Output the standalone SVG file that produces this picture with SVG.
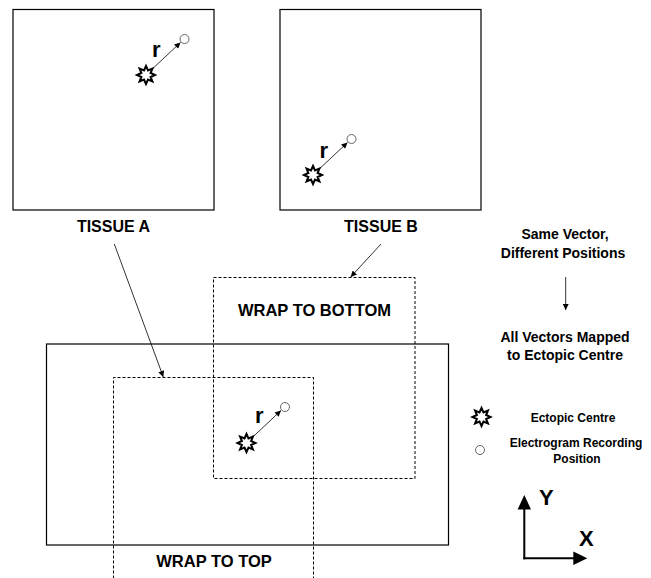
<svg xmlns="http://www.w3.org/2000/svg" xmlns:xlink="http://www.w3.org/1999/xlink" width="651" height="578" viewBox="0 0 651 578">
<style>
  .box{fill:none;stroke:#000;stroke-width:1.2}
  .dash{fill:none;stroke:#000;stroke-width:1;stroke-dasharray:3,2}
  .t{font-family:"Liberation Sans",Arial,Helvetica,sans-serif;font-weight:bold;fill:#000}
  .lbl{font-size:16px;text-anchor:middle}
  .wrap{font-size:16.5px;text-anchor:middle}
  .note{font-size:14px;text-anchor:middle}
  .leg{font-size:12px;text-anchor:middle}
  .r{font-size:22px}
  .conn{stroke:#000;stroke-width:0.8;fill:none}
  .vec{stroke:#000;stroke-width:0.8;fill:none}
  .rec{fill:#fff;stroke:#555;stroke-width:0.9}
  .star{fill:#fff;stroke:#000;stroke-width:2;stroke-linejoin:miter}
</style>
<defs>
  <marker id="ah" viewBox="0 0 10 10" refX="10" refY="5" markerWidth="7" markerHeight="6" orient="auto" markerUnits="userSpaceOnUse">
    <path d="M0,0 L10,5 L0,10 z" fill="#000"/>
  </marker>
  <polygon id="starshape" class="star" points="0,-9 2,-4.6 6.4,-6.4 4.6,-2 9,0 4.6,2 6.4,6.4 2,4.6 0,9 -2,4.6 -6.4,6.4 -4.6,2 -9,0 -4.6,-2 -6.4,-6.4 -2,-4.6"/>
</defs>
<rect width="651" height="578" fill="#fff"/>

<g id="tissue-a">
  <rect class="box" x="13" y="9.5" width="201" height="200.5"/>
  <line class="vec" x1="148" y1="73" x2="180.5" y2="42.5" marker-end="url(#ah)"/>
  <use xlink:href="#starshape" x="146" y="75"/>
  <circle class="rec" cx="184.5" cy="39" r="4.5"/>
  <text class="t r" x="152" y="56.5">r</text>
  <text class="t lbl" x="113.5" y="232">TISSUE A</text>
</g>

<g id="tissue-b">
  <rect class="box" x="280" y="9.5" width="201" height="200.5"/>
  <line class="vec" x1="315" y1="173" x2="347.5" y2="142.5" marker-end="url(#ah)"/>
  <use xlink:href="#starshape" x="313" y="175"/>
  <circle class="rec" cx="351.5" cy="139" r="4.5"/>
  <text class="t r" x="319.5" y="157.5">r</text>
  <text class="t lbl" x="381" y="232">TISSUE B</text>
</g>

<g id="combined">
  <rect class="box" x="46.5" y="344" width="402" height="201"/>
  <path class="dash" d="M113.5,578.5 V377.5 H313.5 V578.5"/>
  <rect class="dash" x="213.5" y="277.5" width="201.5" height="201"/>
  <line class="vec" x1="248.5" y1="441" x2="281" y2="410.5" marker-end="url(#ah)"/>
  <use xlink:href="#starshape" x="246.5" y="443"/>
  <circle class="rec" cx="285" cy="407" r="4.5"/>
  <text class="t r" x="255" y="423">r</text>
  <text class="t wrap" x="314.5" y="316">WRAP TO BOTTOM</text>
  <text class="t wrap" x="214" y="567">WRAP TO TOP</text>
</g>

<g id="notes">
  <text class="t note" x="565" y="239">Same Vector,</text>
  <text class="t note" x="563" y="257.5">Different Positions</text>
  <text class="t note" x="565" y="342">All Vectors Mapped</text>
  <text class="t note" x="565" y="360">to Ectopic Centre</text>
</g>

<g id="legend">
  <use xlink:href="#starshape" x="481.5" y="417"/>
  <text class="t leg" x="573" y="422">Ectopic Centre</text>
  <circle class="rec" cx="480" cy="450" r="4.5"/>
  <text class="t leg" x="576" y="446.5">Electrogram Recording</text>
  <text class="t leg" x="577" y="463">Position</text>
</g>

<g id="axes">
  <line x1="524.3" y1="559.3" x2="524.3" y2="508" stroke="#000" stroke-width="2"/>
  <polygon points="524.3,495 531,509.5 517.6,509.5" fill="#000"/>
  <line x1="523.3" y1="558.3" x2="574" y2="558.3" stroke="#000" stroke-width="2"/>
  <polygon points="587.3,558.3 573.3,551.5 573.3,565" fill="#000"/>
  <text class="t r" x="539" y="505">Y</text>
  <text class="t r" x="579" y="546">X</text>
</g>

<g id="connectors">
  <line class="conn" x1="114.3" y1="244" x2="163.3" y2="377" marker-end="url(#ah)"/>
  <line class="conn" x1="381" y1="244" x2="350.7" y2="277" marker-end="url(#ah)"/>
  <line class="conn" x1="565.7" y1="277" x2="565.7" y2="310" marker-end="url(#ah)"/>
</g>
</svg>
